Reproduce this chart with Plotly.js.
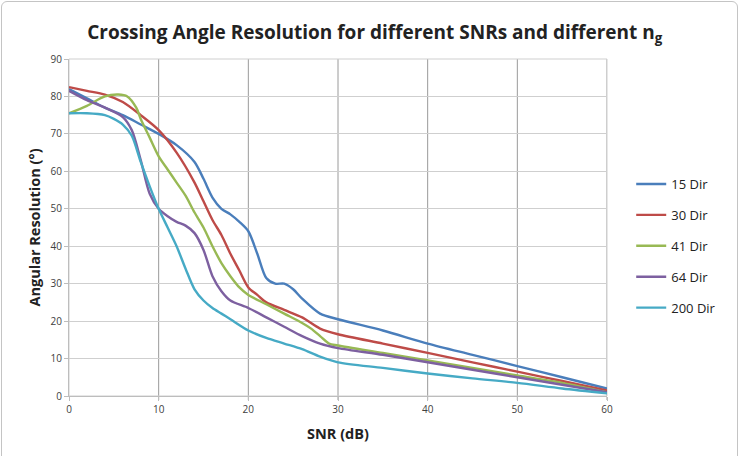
<!DOCTYPE html>
<html>
<head>
<meta charset="utf-8">
<script src="https://cdn.plot.ly/plotly-3.0.1.min.js"></script>
<style>
html,body{margin:0;padding:0;background:#fff;}
#wrap{position:relative;width:742px;height:456px;overflow:hidden;}
#chart{width:742px;height:456px;}
#frame{position:absolute;left:1px;top:1px;width:735px;height:470px;border:1.5px solid #c4c4c4;border-radius:6px;pointer-events:none;}
</style>
</head>
<body>
<div id="wrap"><div id="chart"></div><div id="frame"></div></div>
<script>
const seriesNames = ["15 Dir", "30 Dir", "41 Dir", "64 Dir", "200 Dir"];
const seriesColors = ["#4A7EBB", "#BE4B48", "#98B954", "#7D60A0", "#46AAC5"];

const x15 = [0, 2, 4, 6, 8, 10, 12, 14, 15, 16, 17, 18, 19, 20, 21, 22, 23, 24, 25, 26, 28, 30, 35, 40, 45, 50, 55, 60];
const y15 = [82, 79.5, 77, 75, 72.5, 70, 67, 62.5, 58, 53, 50, 48.5, 46.5, 44, 38, 31.5, 30, 30, 28.5, 26, 22, 20.5, 17.5, 14, 11, 8, 5, 2];

const x30 = [0, 2, 4, 6, 8, 10, 12, 14, 15, 16, 17, 18, 19, 20, 21, 22, 24, 26, 28, 30, 35, 40, 45, 50, 55, 60];
const y30 = [82.5, 81.5, 80.5, 78.5, 75, 71, 65, 57, 52, 47, 43, 38, 33.5, 29, 27, 25, 23, 21, 18, 16.5, 14, 11.5, 9, 6.5, 4, 1.5];

const x41 = [0, 2, 4, 5.5, 6.5, 7.5, 8, 9, 10, 11, 12, 13, 14, 15, 16, 17, 18, 19, 20, 22, 24, 26, 27, 28, 29, 30, 35, 40, 45, 50, 55, 60];
const y41 = [75.5, 77.5, 80, 80.5, 80, 77, 74, 69, 64, 60.5, 57, 53.5, 49, 45, 40, 35.5, 32, 29, 27, 24.5, 22, 19.5, 18, 16, 14, 13.5, 11.5, 9.5, 7.5, 5.5, 3.5, 1];

const x64 = [0, 2, 4, 6, 7, 8, 9, 10, 11, 12, 13, 14, 15, 16, 17, 18, 20, 22, 24, 26, 28, 30, 35, 40, 45, 50, 55, 60];
const y64 = [81.5, 79, 77, 74.5, 71, 63, 54, 50, 48, 46.5, 45.5, 43.5, 39, 32, 28, 25.5, 23.5, 21, 18.5, 16, 14, 12.8, 11, 9, 7, 5, 3, 1];

const x200 = [0, 2, 4, 5, 6, 7, 8, 9, 10, 11, 12, 13, 14, 15, 16, 17, 18, 20, 22, 24, 26, 28, 30, 35, 40, 45, 50, 55, 60];
const y200 = [75.5, 75.5, 75, 74, 72.5, 69.5, 62.5, 56, 50, 45, 40, 34, 28.5, 25.5, 23.5, 22, 20.5, 17.5, 15.5, 14, 12.5, 10.5, 9, 7.5, 6, 4.7, 3.5, 2, 0.7];

const xs = [x15, x30, x41, x64, x200];
const ys = [y15, y30, y41, y64, y200];

const xTicks = [0, 10, 20, 30, 40, 50, 60];
const yTicks = [0, 10, 20, 30, 40, 50, 60, 70, 80, 90];

const FONT = "'Open Sans', Lato, sans-serif";

const traces = seriesNames.map((n, i) => ({
  type: "scatter",
  mode: "lines",
  name: n,
  legendgroup: "g" + i,
  x: xs[i],
  y: ys[i],
  line: {color: seriesColors[i], width: 2.4, shape: "spline", smoothing: 0.8}
}));

const shapes = xTicks.slice(1).map(v => ({
  type: "line", xref: "x", yref: "paper", x0: v, x1: v, y0: -0.012, y1: 1,
  line: {color: "#9a9a9a", width: 1}, layer: "below"
}));

const layout = {
  width: 742, height: 456,
  margin: {l: 69, r: 135, t: 59, b: 60},
  paper_bgcolor: "#ffffff",
  plot_bgcolor: "#ffffff",
  font: {family: FONT, color: "#404040", size: 10},
  title: {
    text: "<b>Crossing Angle Resolution for different SNRs and different n<sub>g</sub></b>",
    font: {family: FONT, size: 19, color: "#222"},
    x: 0.505, xanchor: "center", y: 0.93, yanchor: "middle"
  },
  xaxis: {
    range: [0, 60], tickvals: xTicks, ticktext: xTicks.map(String),
    showgrid: false, zeroline: false,
    showline: true, linecolor: "#bdbdbd", linewidth: 1,
    ticks: "outside", ticklen: 4, tickcolor: "#bdbdbd",
    tickfont: {size: 10, color: "#404040", family: FONT},
    title: {text: "<b>SNR (dB)</b>", font: {size: 14.5, color: "#222", family: FONT}, standoff: 13}
  },
  yaxis: {
    range: [0, 90], tickvals: yTicks, ticktext: yTicks.map(String),
    showgrid: true, gridcolor: "#cfcfcf", gridwidth: 1,
    zeroline: false,
    showline: true, linecolor: "#bdbdbd", linewidth: 1,
    ticks: "outside", ticklen: 4, tickcolor: "#bdbdbd",
    tickfont: {size: 10, color: "#404040", family: FONT},
    title: {text: "<b>Angular Resolution (°)</b>", font: {size: 14.5, color: "#222", family: FONT}, standoff: 6}
  },
  legend: {
    x: 1.045, xanchor: "left", y: 0.445, yanchor: "middle",
    font: {size: 13, color: "#222", family: FONT},
    tracegroupgap: 11, itemwidth: 30, traceorder: "grouped",
    bgcolor: "rgba(0,0,0,0)"
  },
  shapes: shapes.concat([{
    type: "rect", xref: "paper", yref: "paper", x0: 0, x1: 1, y0: 0, y1: 1,
    line: {color: "#cfcfcf", width: 1}, layer: "below"
  }]),
  showlegend: true
};

Plotly.newPlot("chart", traces, layout, {displayModeBar: false, staticPlot: true});
</script>
</body>
</html>
